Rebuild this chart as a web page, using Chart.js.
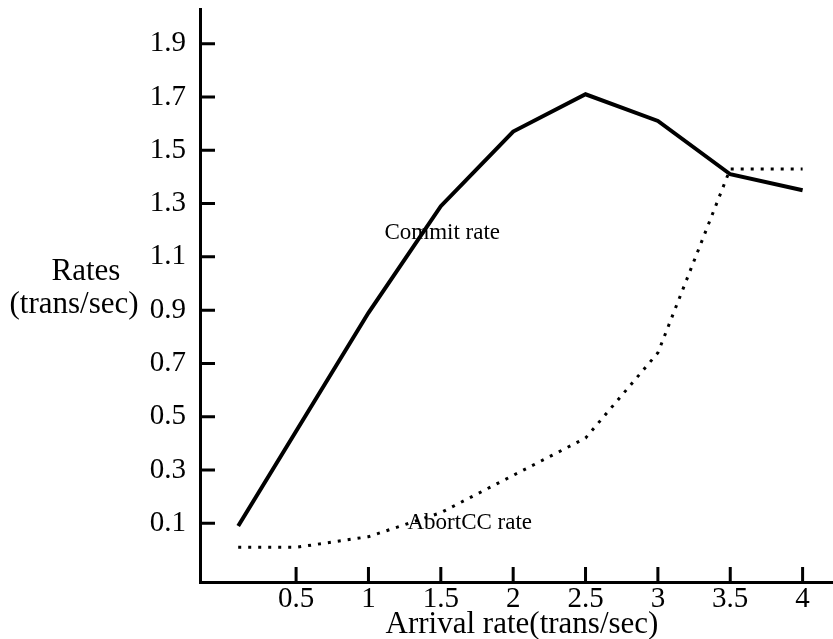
<!DOCTYPE html>
<html><head><meta charset="utf-8">
<script src="https://cdn.jsdelivr.net/npm/chart.js@4/dist/chart.umd.min.js"></script>
<style>html,body{margin:0;padding:0;background:#fff;} canvas{display:block;}</style>
</head><body>
<canvas id="c" width="833" height="639"></canvas>
<script>
const xTicks = [0.5, 1, 1.5, 2, 2.5, 3, 3.5, 4];
const yTicks = [0.1, 0.3, 0.5, 0.7, 0.9, 1.1, 1.3, 1.5, 1.7, 1.9];
const commitX = [0.1, 1, 1.5, 2, 2.5, 3, 3.5, 4];
const commitRate = [0.09, 0.89, 1.29, 1.57, 1.71, 1.61, 1.41, 1.35];
const abortX = [0.1, 0.5, 1, 1.5, 2, 2.5, 3, 3.5, 4];
const abortCCRate = [0.01, 0.01, 0.05, 0.14, 0.28, 0.42, 0.74, 1.43, 1.43];
const xTitle = 'Arrival rate(trans/sec)';
const yTitle = ['Rates', '(trans/sec)'];
const commitLabel = 'Commit rate';
const abortLabel = 'AbortCC rate';

const FONT = '"Liberation Serif", "Times New Roman", serif';

const decor = {
  id: 'decor',
  afterDraw(chart) {
    const ctx = chart.ctx, x = chart.scales.x, y = chart.scales.y;
    const left = chart.chartArea.left, bottom = chart.chartArea.bottom;
    ctx.save();
    ctx.strokeStyle = '#000'; ctx.lineWidth = 3; ctx.lineCap = 'butt';
    ctx.beginPath();
    yTicks.forEach(v => { const p = y.getPixelForValue(v); ctx.moveTo(left, p); ctx.lineTo(left + 15, p); });
    xTicks.forEach(v => { const p = x.getPixelForValue(v); ctx.moveTo(p, bottom); ctx.lineTo(p, bottom - 15); });
    ctx.stroke();
    ctx.fillStyle = '#000';
    ctx.textAlign = 'center';
    ctx.textBaseline = 'alphabetic';
    ctx.font = '31px ' + FONT;
    ctx.fillText(xTitle, 522, 633);
    ctx.textBaseline = 'middle';
    ctx.font = '31px ' + FONT;
    ctx.fillText(yTitle[0], 86, 272);
    ctx.fillText(yTitle[1], 74, 305);
    ctx.font = '23px ' + FONT;
    ctx.fillText(commitLabel, x.getPixelForValue(1.51), y.getPixelForValue(1.19));
    ctx.fillText(abortLabel, x.getPixelForValue(1.7), y.getPixelForValue(0.1));
    ctx.restore();
  }
};

new Chart(document.getElementById('c'), {
  type: 'line',
  data: {
    datasets: [
      {
        label: commitLabel,
        data: commitX.map((v, i) => ({ x: v, y: commitRate[i] })),
        borderColor: '#000', borderWidth: 4, pointRadius: 0, tension: 0, fill: false
      },
      {
        label: abortLabel,
        data: abortX.map((v, i) => ({ x: v, y: abortCCRate[i] })),
        borderColor: '#000', borderWidth: 3, borderDash: [3, 7], pointRadius: 0, tension: 0, fill: false
      }
    ]
  },
  plugins: [decor],
  options: {
    responsive: false,
    animation: false,
    devicePixelRatio: 1,
    layout: { padding: { top: 9, right: 0, left: 0, bottom: 0 } },
    plugins: { legend: { display: false }, tooltip: { enabled: false } },
    scales: {
      x: {
        type: 'linear', min: -0.164, max: 4.21,
        afterBuildTicks: s => { s.ticks = xTicks.map(v => ({ value: v })); },
        afterFit: s => { s.height = 57; s.paddingLeft = 0; s.paddingRight = 0; },
        grid: { display: false, drawTicks: false },
        border: { display: true, width: 3, color: '#000' },
        ticks: { color: '#000', padding: 0, font: { family: FONT, size: 29 }, maxRotation: 0, autoSkip: false,
                 callback: v => String(v) }
      },
      y: {
        type: 'linear', min: -0.12, max: 2.03,
        afterBuildTicks: s => { s.ticks = yTicks.map(v => ({ value: v })); },
        afterFit: s => { s.width = 200; s.paddingTop = 0; s.paddingBottom = 0; },
        grid: { display: false, drawTicks: false },
        border: { display: true, width: 3, color: '#000' },
        ticks: { color: '#000', padding: 14, font: { family: FONT, size: 29 }, autoSkip: false,
                 callback: v => v.toFixed(1) }
      }
    }
  }
});
</script>
</body></html>
